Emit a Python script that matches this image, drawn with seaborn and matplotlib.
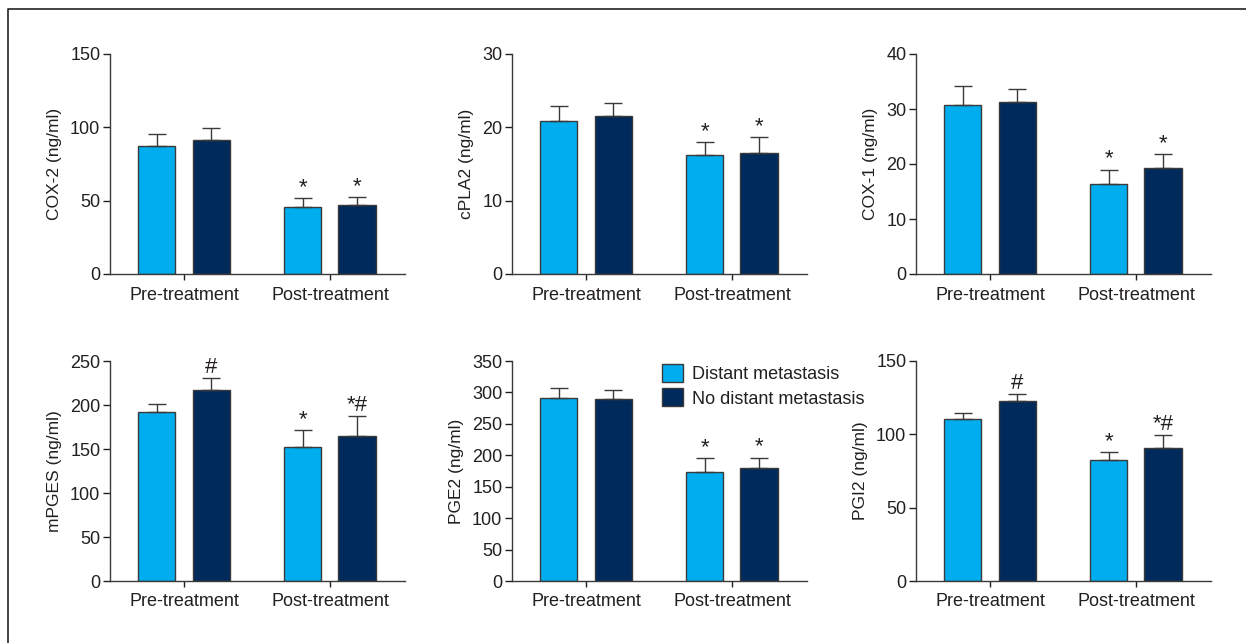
import matplotlib
matplotlib.use("Agg")
import matplotlib.pyplot as plt
from matplotlib.lines import Line2D
import numpy as np
import pandas as pd
import seaborn as sns

# Categories and groups
timepoints = ["Pre-treatment", "Post-treatment"]
groups = ["Distant metastasis", "No distant metastasis"]

# Means and upper error: [pre DM, pre NDM, post DM, post NDM]
cox2_mean = [87.0, 91.1, 45.9, 47.3]
cox2_err = [8.7, 8.7, 6.1, 5.4]
cpla2_mean = [20.9, 21.5, 16.2, 16.5]
cpla2_err = [2.0, 1.8, 1.8, 2.2]
cox1_mean = [30.7, 31.3, 16.3, 19.2]
cox1_err = [3.5, 2.3, 2.7, 2.6]
mpges_mean = [192.4, 217.0, 151.9, 165.2]
mpges_err = [8.7, 13.3, 19.3, 21.9]
pge2_mean = [291.1, 289.5, 173.9, 179.2]
pge2_err = [15.4, 14.9, 21.2, 17.0]
pgi2_mean = [110.2, 122.5, 82.3, 90.7]
pgi2_err = [4.3, 5.2, 5.7, 9.1]

# Significance marks above each bar
cox2_sig = ["", "", "*", "*"]
cpla2_sig = ["", "", "*", "*"]
cox1_sig = ["", "", "*", "*"]
mpges_sig = ["", "#", "*", "*#"]
pge2_sig = ["", "", "*", "*"]
pgi2_sig = ["", "#", "*", "*#"]

y_labels = ["COX-2 (ng/ml)", "cPLA2 (ng/ml)", "COX-1 (ng/ml)",
            "mPGES (ng/ml)", "PGE2 (ng/ml)", "PGI2 (ng/ml)"]
y_max = [150, 30, 40, 250, 350, 150]
y_step = [50, 10, 10, 50, 50, 50]

panels = [
    (cox2_mean, cox2_err, cox2_sig),
    (cpla2_mean, cpla2_err, cpla2_sig),
    (cox1_mean, cox1_err, cox1_sig),
    (mpges_mean, mpges_err, mpges_sig),
    (pge2_mean, pge2_err, pge2_sig),
    (pgi2_mean, pgi2_err, pgi2_sig),
]

light_blue = "#00AEEF"
navy = "#002A5C"
edge = "#3a3a3a"
text_col = "#231f20"

sns.set_theme(style="ticks")
plt.rcParams["font.family"] = ["Liberation Sans", "DejaVu Sans"]
plt.rcParams["text.color"] = text_col
plt.rcParams["axes.labelcolor"] = text_col
plt.rcParams["xtick.color"] = text_col
plt.rcParams["ytick.color"] = text_col

W, H = 1246, 643
fig = plt.figure(figsize=(W / 100, H / 100), dpi=100)

lefts = [110, 512, 916]
axes_w = 295
rows = [(54, 274), (361, 581)]

for i, (means, errs, sigs) in enumerate(panels):
    r, c = divmod(i, 3)
    top_px, bot_px = rows[r]
    ax = fig.add_axes([lefts[c] / W, 1 - bot_px / H,
                       axes_w / W, (bot_px - top_px) / H])
    df = pd.DataFrame({
        "Time": [timepoints[0], timepoints[0], timepoints[1], timepoints[1]],
        "Group": [groups[0], groups[1], groups[0], groups[1]],
        "Value": means,
    })
    sns.barplot(data=df, x="Time", y="Value", hue="Group",
                order=timepoints, hue_order=groups,
                palette=[light_blue, navy], saturation=1,
                width=0.752, gap=0.31,
                edgecolor=edge, linewidth=1.0, errorbar=None,
                legend=(i == 4), ax=ax)

    # Upper error bars and significance marks on each bar
    bars = sorted(ax.patches[:4], key=lambda p: p.get_x())
    top = y_max[i]
    for p, m, e, s in zip(bars, means, errs, sigs):
        xc = p.get_x() + p.get_width() / 2
        ax.errorbar([xc], [m], yerr=[[0], [e]], fmt="none",
                    ecolor=edge, elinewidth=1.0,
                    capsize=p.get_width() * 146 / 4 * 0.72, capthick=1.0)
        if s:
            ax.text(xc, m + e + top * 0.0, s, ha="center", va="bottom",
                    fontsize=16, color=text_col)

    ax.set_xlim(-0.507, 1.514)
    ax.set_ylim(0, top)
    ax.set_yticks(np.arange(0, top + 1, y_step[i]))
    ax.set_xlabel("")
    ax.set_ylabel(y_labels[i], fontsize=12.5, labelpad=6)
    ax.tick_params(axis="y", labelsize=13, length=5, width=1.0, pad=2)
    ax.tick_params(axis="x", labelsize=13, length=4, width=1.0, pad=5)
    sns.despine(ax=ax)
    for sp in ("left", "bottom"):
        ax.spines[sp].set_color(edge)
        ax.spines[sp].set_linewidth(1.0)

    if i == 4:
        handles, labels = ax.get_legend_handles_labels()
        if ax.get_legend() is not None:
            ax.get_legend().remove()
        ax.legend(handles, labels, loc="upper left",
                  bbox_to_anchor=(662 / W, 1 - 364 / H),
                  bbox_transform=fig.transFigure, frameon=False,
                  fontsize=13, handlelength=1.15, handleheight=1.15,
                  handletextpad=0.5, labelspacing=0.3,
                  borderpad=0, borderaxespad=0)

# Frame lines along the top and left of the figure
fig.add_artist(Line2D([8 / W, 8 / W, 1.0], [0.0, 1 - 9 / H, 1 - 9 / H],
                      transform=fig.transFigure, color="#222222", lw=1.2))

fig.savefig("out.png", dpi=100)
